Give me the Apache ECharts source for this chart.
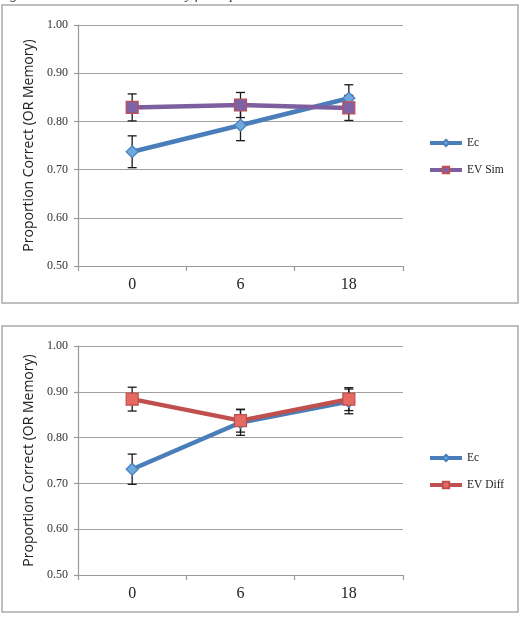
<!DOCTYPE html>
<html>
<head>
<meta charset="utf-8">
<script src="https://cdn.jsdelivr.net/npm/echarts@6/dist/echarts.min.js"></script>
<style>
  html, body { margin: 0; padding: 0; background: #fff; }
  #chart { width: 520px; height: 618px; }
</style>
</head>
<body>
<div id="chart"></div>
<script>
// categories (delay) and values
var cats = ['0', '6', '18'];

var topEc = [0.737, 0.792, 0.848];
var topEcErr = [0.033, 0.032, 0.028];
var topSim = [0.829, 0.834, 0.828];
var topSimErr = [0.028, 0.026, 0.026];

var botEc = [0.731, 0.833, 0.879];
var botEcErr = [0.033, 0.028, 0.027];
var botDiff = [0.884, 0.837, 0.884];
var botDiffErr = [0.026, 0.025, 0.025];

var yTicks = [0.5, 0.6, 0.7, 0.8, 0.9, 1.0];

var serif = 'Liberation Serif';
var sans = 'Open Sans';

function errData(vals, errs) {
  return cats.map(function (c, i) {
    return [i, vals[i] - errs[i], vals[i] + errs[i]];
  });
}

function errItem(params, api) {
  var lo = api.coord([api.value(0), api.value(1)]);
  var hi = api.coord([api.value(0), api.value(2)]);
  var w = 4.5;
  var st = { stroke: '#1a1a1a', lineWidth: 1.3 };
  return {
    type: 'group',
    children: [
      { type: 'line', shape: { x1: lo[0], y1: lo[1], x2: hi[0], y2: hi[1] }, style: st },
      { type: 'line', shape: { x1: lo[0] - w, y1: lo[1], x2: lo[0] + w, y2: lo[1] }, style: st },
      { type: 'line', shape: { x1: hi[0] - w, y1: hi[1], x2: hi[0] + w, y2: hi[1] }, style: st }
    ]
  };
}

function errSeries(idx, vals, errs) {
  return {
    type: 'custom',
    xAxisIndex: idx,
    yAxisIndex: idx,
    z: 1,
    silent: true,
    renderItem: errItem,
    data: errData(vals, errs)
  };
}

function lineSeries(idx, name, vals, lineColor, symbol, size, fill, border) {
  return {
    name: name,
    type: 'line',
    xAxisIndex: idx,
    yAxisIndex: idx,
    z: 3,
    data: vals,
    symbol: symbol,
    symbolSize: size,
    showAllSymbol: true,
    lineStyle: { color: lineColor, width: 4.5 },
    itemStyle: { color: fill, borderColor: border, borderWidth: 1.2 },
    color: lineColor
  };
}

function xAx(idx) {
  return {
    type: 'category',
    gridIndex: idx,
    data: cats,
    boundaryGap: true,
    axisLine: { lineStyle: { color: '#999', width: 1.2 } },
    axisTick: { show: true, length: 5, lineStyle: { color: '#999', width: 1.2 } },
    axisLabel: { color: '#222', fontFamily: serif, fontSize: 16, margin: 11 }
  };
}

function yAx(idx) {
  return {
    type: 'value',
    gridIndex: idx,
    min: yTicks[0],
    max: yTicks[yTicks.length - 1],
    interval: 0.1,
    name: 'Proportion Correct (OR Memory)',
    nameLocation: 'middle',
    nameGap: 35,
    nameTextStyle: { color: '#222', fontFamily: sans, fontSize: 14 },
    axisLine: { show: true, lineStyle: { color: '#999', width: 1.2 } },
    axisTick: { show: true, length: 4, lineStyle: { color: '#999', width: 1.2 } },
    splitLine: { lineStyle: { color: '#a0a0a0', width: 1.2 } },
    axisLabel: {
      color: '#333', fontFamily: serif, fontSize: 12, margin: 10,
      formatter: function (v) { return v.toFixed(2); }
    }
  };
}

function legendAt(top, names) {
  return {
    orient: 'vertical',
    left: 423,
    top: top,
    itemWidth: 32,
    itemHeight: 8,
    itemGap: 15,
    data: names,
    lineStyle: { width: 4 },
    textStyle: { color: '#222', fontFamily: serif, fontSize: 11.5 }
  };
}

var chart = echarts.init(document.getElementById('chart'));
chart.setOption({
  backgroundColor: '#fff',
  animation: false,
  graphic: [
    { type: 'rect', shape: { x: 2, y: 5, width: 516, height: 298 },
      style: { fill: 'none', stroke: '#aaa', lineWidth: 1.5 } },
    { type: 'rect', shape: { x: 2, y: 326, width: 516, height: 286 },
      style: { fill: 'none', stroke: '#aaa', lineWidth: 1.5 } },
    { type: 'text', left: -2, top: -12,
      style: { text: 'Figure 9. Sued Recall OR Memory for Repeated Items',
        fill: '#333', font: 'italic 14px "Liberation Serif"' } }
  ],
  grid: [
    { left: 78, top: 25, right: 117, bottom: 352 },
    { left: 78, top: 346, right: 117, bottom: 43 }
  ],
  legend: [
    legendAt(132, ['Ec', 'EV Sim']),
    legendAt(447, ['Ec', 'EV Diff'])
  ],
  xAxis: [xAx(0), xAx(1)],
  yAxis: [yAx(0), yAx(1)],
  series: [
    errSeries(0, topEc, topEcErr),
    errSeries(0, topSim, topSimErr),
    lineSeries(0, 'Ec', topEc, '#4a7ebb', 'diamond', 12, '#6fa8dc', '#4a7ebb'),
    lineSeries(0, 'EV Sim', topSim, '#7d5fa0', 'rect', 12, '#7e62a6', '#c0504d'),
    errSeries(1, botEc, botEcErr),
    errSeries(1, botDiff, botDiffErr),
    lineSeries(1, 'Ec', botEc, '#4a7ebb', 'diamond', 12, '#6fa8dc', '#4a7ebb'),
    lineSeries(1, 'EV Diff', botDiff, '#c0504d', 'rect', 12, '#e46a63', '#c0504d')
  ]
});
</script>
</body>
</html>
